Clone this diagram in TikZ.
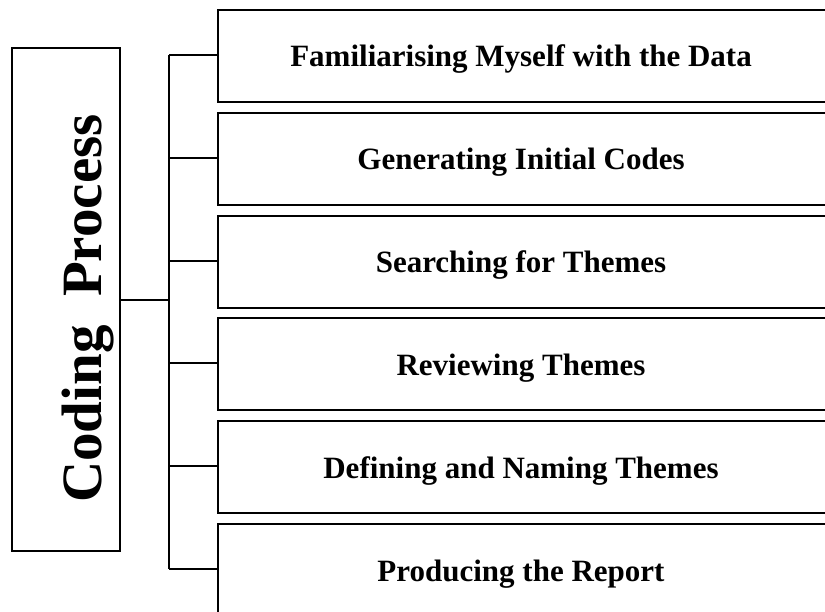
\documentclass[tikz,border=0pt]{standalone}
\usepackage{fontspec}
\setmainfont{Liberation Serif}
\begin{document}
\begin{tikzpicture}[x=1pt,y=-1pt,
  stepbox/.style={draw,line width=1.6pt,minimum width=640pt,minimum height=92pt,anchor=north west,inner sep=0pt},
  steptext/.style={anchor=base,inner sep=0pt,font=\bfseries\fontsize{31}{34}\selectfont},
  conn/.style={line width=1.6pt}]
\useasboundingbox (0,0) rectangle (825,612);
\clip (0,0) rectangle (825,612);
\node[draw,line width=1.6pt,minimum width=108pt,minimum height=503pt,inner sep=0pt] (main) at (66,299.5) {};
\node[rotate=90,anchor=base,inner sep=0pt,font=\bfseries\fontsize{57}{60}\selectfont] (mt) at (101,308.5) {Coding\ \ Process};
\foreach \i/\y/\t in {1/9/Familiarising Myself with the Data,2/112/Generating Initial Codes,3/215/Searching for Themes,4/317/Reviewing Themes,5/420/Defining and Naming Themes,6/523/Producing the Report}{
  \node[stepbox] (b\i) at (217,\y) {};
  \node[steptext] (t\i) at (521,\y+58) {\t};
  \coordinate (c\i) at (169,\y+46);
  \draw[conn] (c\i) -- (b\i.west |- c\i);
}
\coordinate (vm) at (169,300);
\draw[conn] (c1) -- (c6);
\draw[conn,line width=2.4pt] (main.east |- vm) -- (vm);
\end{tikzpicture}
\end{document}
